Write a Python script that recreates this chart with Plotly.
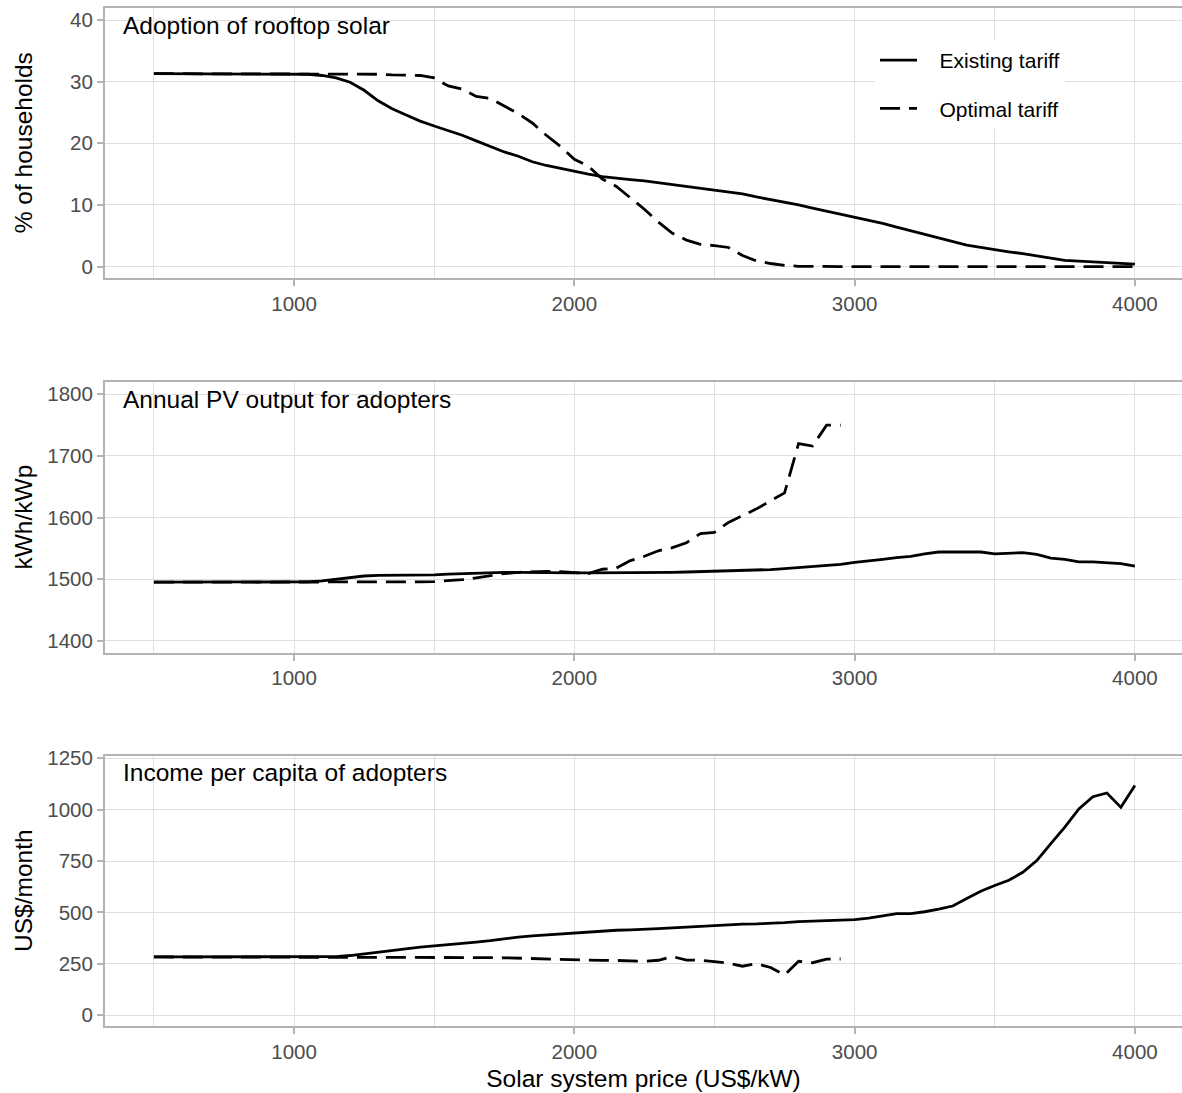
import plotly.graph_objects as go

# ---------------- data ----------------
price = list(range(500, 4001, 50))          # solar system price grid (US$/kW)
price_opt = list(range(500, 2951, 50))      # grid for optimal-tariff adopter stats

adopt_existing = [31.3]*11 + [
    31.2, 31.0, 30.6, 29.9, 28.6, 26.9, 25.6, 24.6, 23.6, 22.8,
    22.1, 21.3, 20.4, 19.5, 18.6, 17.9, 17.0, 16.4, 15.9, 15.4,
    15.0, 14.6, 14.3, 14.1, 13.9, 13.6, 13.4, 13.1, 12.8, 12.4,
    12.2, 11.8, 11.3, 10.9, 10.4, 10.0, 9.5, 9.0, 8.5, 8.1,
    7.6, 7.0, 6.4, 5.8, 5.2, 4.6, 4.0, 3.5, 3.1, 2.7,
    2.4, 2.1, 1.7, 1.3, 1.0, 0.9, 0.8, 0.7, 0.55, 0.4]
adopt_optimal = [31.3]*11 + [
    31.3, 31.3, 31.3, 31.2, 31.2, 31.2, 31.1, 31.1, 31.0, 30.6,
    29.3, 28.8, 27.6, 27.3, 26.0, 24.8, 23.3, 21.3, 19.5, 17.4,
    16.3, 14.2, 13.0, 11.2, 9.3, 7.2, 5.4, 4.3, 3.6, 3.4,
    3.1, 1.8, 0.9, 0.5, 0.2, 0.05] + [0.0]*24

pv_existing = [1495]*11 + [
    1495.5, 1497, 1500, 1503, 1505, 1506, 1506, 1506, 1506.5, 1507,
    1508, 1509, 1510, 1511, 1511, 1511, 1510.5, 1510, 1510, 1510,
    1510, 1510, 1510, 1510, 1510.5, 1511, 1511, 1511.5, 1512, 1512.5,
    1513, 1513.5, 1514.5, 1515.5, 1517, 1518.5, 1520, 1522, 1524, 1527,
    1529, 1532, 1535, 1537, 1541, 1544, 1544, 1544, 1544, 1541,
    1542, 1543, 1540, 1534, 1532, 1528, 1528, 1526, 1525, 1521]
pv_optimal = [1495]*13 + [
    1494.5, 1494.5, 1494.5, 1494.5, 1495, 1495, 1495.5, 1496,
    1497.5, 1499, 1502, 1506, 1509, 1511, 1512, 1512.5, 1512, 1511,
    1509, 1516, 1518, 1530, 1537, 1546, 1551, 1559, 1574, 1576,
    1592, 1603, 1614, 1627, 1640, 1720, 1716, 1750, 1750]

income_existing = [283]*13 + [
    285, 290, 298, 308, 317, 325, 331, 337,
    342, 348, 355, 362, 372, 380, 386, 391, 395, 400,
    405, 409, 413, 415, 417, 421, 425, 429, 433, 438,
    441, 443, 444, 446, 450, 455, 457, 459, 461, 465,
    472, 482, 494, 494, 503, 516, 531, 567, 603, 631,
    656, 695, 752, 835, 915, 1003, 1063, 1081, 1011, 1117]
income_optimal = [283]*21 + [
    281, 280, 280, 280, 279, 277, 274, 272, 271, 270,
    268, 266, 266, 265, 262, 267, 285, 268, 267, 260,
    253, 238, 250, 232, 195, 262, 255, 272, 273]

series_names = ["Existing tariff", "Optimal tariff"]
panel_titles = ["Adoption of rooftop solar", "Annual PV output for adopters",
                "Income per capita of adopters"]
y_titles = ["% of households", "kWh/kWp", "US$/month"]
x_title = "Solar system price (US$/kW)"

# ---------------- layout constants ----------------
W, H = 1182, 1093
L = 105
FONT = "Liberation Sans, Arial, Helvetica, sans-serif"
FRAME = "#b3b3b3"
GRID = "#e0e0e0"
LW = 2.8
DASH = "20px,9px"
PAD = "\u00a0\u00a0\u00a0"   # extra gap between legend key and label

# panel frames in pixels (top, bottom)
panels_px = [(8.3, 278.3), (382.3, 652.7), (756.0, 1026.0)]
y_ranges = [[-1.9, 41.9], [1380.5, 1819.5], [-53, 1261]]
y_ticks = [[0, 10, 20, 30, 40], [1400, 1500, 1600, 1700, 1800],
           [0, 250, 500, 750, 1000, 1250]]

fig = go.Figure()

data = [
    (price, adopt_existing, price, adopt_optimal),
    (price, pv_existing, price_opt, pv_optimal),
    (price, income_existing, price_opt, income_optimal),
]

for i, (xe, ye, xo, yo) in enumerate(data):
    ax = "" if i == 0 else str(i + 1)
    fig.add_trace(go.Scatter(
        x=xe, y=ye, mode="lines", name=PAD + series_names[0],
        line=dict(color="black", width=LW), xaxis="x" + ax, yaxis="y" + ax,
        showlegend=(i == 0), legendgroup="a"))
    fig.add_trace(go.Scatter(
        x=xo, y=yo, mode="lines", name=PAD + series_names[1],
        line=dict(color="black", width=LW, dash=DASH), xaxis="x" + ax, yaxis="y" + ax,
        showlegend=(i == 0), legendgroup="b"))

layout = dict(
    width=W, height=H,
    margin=dict(l=L, r=0, t=0, b=0, autoexpand=False),
    paper_bgcolor="white", plot_bgcolor="white",
    font=dict(family=FONT, color="black"),
    legend=dict(
        x=(875 - L) / (W - L), y=1 - 40 / H, xanchor="left", yanchor="top",
        bgcolor="white", borderwidth=0, font=dict(size=21, color="black", family=FONT),
        itemwidth=37, tracegroupgap=18, traceorder="grouped",
    ),
    annotations=[],
)

for i in range(3):
    ax = "" if i == 0 else str(i + 1)
    top, bot = panels_px[i]
    dom = [1 - bot / H, 1 - top / H]
    layout["xaxis" + ax] = dict(
        domain=[0, 1], anchor="y" + ax, range=[325.5, 4168], automargin=False,
        tickmode="array", tickvals=[1000, 2000, 3000, 4000],
        ticks="outside", ticklen=6, tickwidth=1.5, tickcolor=FRAME,
        tickfont=dict(size=20.5, color="#4d4d4d", family=FONT),
        showgrid=True, gridcolor=GRID, gridwidth=1.2,
        minor=dict(tickvals=[500, 1500, 2500, 3500], showgrid=True,
                   gridcolor=GRID, gridwidth=1.2, ticklen=0),
        showline=True, linecolor=FRAME, linewidth=2, mirror=True,
        zeroline=False,
        title=dict(text=x_title if i == 2 else "", font=dict(size=24.5, color="black", family=FONT),
                   standoff=8),
    )
    layout["yaxis" + ax] = dict(
        domain=dom, anchor="x" + ax, range=y_ranges[i], automargin=False,
        tickmode="array", tickvals=y_ticks[i],
        ticks="outside", ticklen=6, tickwidth=1.5, tickcolor=FRAME,
        tickfont=dict(size=20.5, color="#4d4d4d", family=FONT),
        showgrid=True, gridcolor=GRID, gridwidth=1.2,
        showline=True, linecolor=FRAME, linewidth=2, mirror=False,
        zeroline=False,
    )
    # panel title inside the top-left corner
    layout["annotations"].append(dict(
        text=panel_titles[i], xref="x" + ax + " domain", yref="y" + ax + " domain",
        x=(121 - L) / (W - L), y=1 - 16.8 / (bot - top),
        xanchor="left", yanchor="middle", showarrow=False,
        font=dict(size=24.5, color="black", family=FONT),
    ))
    # y-axis title, aligned across panels
    layout["annotations"].append(dict(
        text=y_titles[i], xref="paper", yref="paper",
        x=(23 - L) / (W - L), y=1 - (top + bot) / 2 / H,
        xanchor="center", yanchor="middle", textangle=-90, showarrow=False,
        font=dict(size=24.5, color="black", family=FONT),
    ))

fig.update_layout(**layout)
fig.write_html("out.html")
